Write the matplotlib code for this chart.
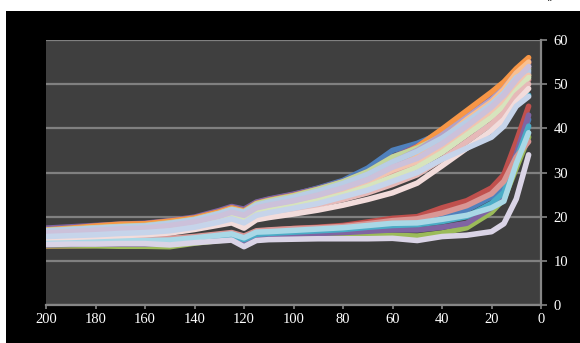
import matplotlib.pyplot as plt
from matplotlib.patches import Rectangle

# distance positions (x axis runs from 200 down to 0)
x = [200, 190, 180, 170, 160, 150, 140, 130, 125, 120, 115, 110,
     100, 90, 80, 70, 60, 50, 40, 30, 20, 15, 10, 5]

# upper bundle
u_blue = [17.2, 17.5, 17.8, 18.1, 18.3, 18.9, 19.7, 21.2, 22.1, 21.5, 23.2, 23.9,
          25.0, 26.5, 28.2, 31.0, 35.0, 36.6, 39.0, 42.5, 46.5, 49.0, 52.0, 54.5]
u_red = [16.8, 17.1, 17.5, 17.8, 18.0, 18.6, 19.4, 20.8, 21.7, 21.0, 22.7, 23.4,
         24.5, 25.9, 27.6, 29.8, 32.8, 35.5, 39.5, 43.0, 46.8, 49.2, 52.5, 54.8]
u_green = [16.5, 16.8, 17.1, 17.4, 17.6, 18.2, 19.0, 20.4, 21.3, 20.6, 22.2, 22.9,
           24.0, 25.3, 27.0, 29.2, 32.0, 34.5, 37.2, 40.5, 44.5, 46.8, 50.0, 52.0]
u_purple = [17.4, 17.7, 18.0, 18.3, 18.5, 19.1, 19.9, 21.4, 22.3, 21.7, 23.3, 24.0,
            25.1, 26.4, 28.0, 30.2, 33.5, 36.0, 39.2, 43.2, 47.2, 49.6, 52.8, 55.2]
u_aqua = [16.6, 16.9, 17.2, 17.5, 17.7, 18.3, 19.1, 20.5, 21.4, 20.7, 22.4, 23.1,
          24.2, 25.6, 27.2, 29.2, 31.8, 34.2, 37.0, 39.5, 40.5, 43.0, 46.0, 47.5]
u_orange = [17.0, 17.4, 17.9, 18.3, 18.4, 19.0, 19.7, 21.1, 22.0, 21.3, 23.0, 23.7,
            24.8, 26.2, 27.8, 30.0, 33.0, 35.8, 39.8, 44.0, 48.2, 50.5, 53.5, 56.0]
u_blue2 = [16.4, 16.7, 17.0, 17.3, 17.6, 18.1, 18.9, 20.3, 21.2, 20.5, 22.1, 22.8,
           23.8, 25.1, 26.8, 28.8, 31.5, 34.0, 36.8, 40.5, 44.5, 47.0, 50.5, 52.5]
u_rose = [16.0, 16.3, 16.6, 16.9, 17.1, 17.6, 18.4, 19.7, 20.6, 19.8, 21.4, 22.0,
          23.0, 24.2, 25.7, 27.5, 30.0, 32.0, 35.0, 38.8, 43.0, 45.5, 49.0, 51.0]
u_green2 = [16.9, 17.2, 17.5, 17.8, 18.0, 18.6, 19.4, 20.8, 21.7, 21.1, 22.9, 23.6,
            24.7, 26.2, 27.9, 30.2, 33.5, 35.5, 38.2, 41.8, 45.8, 48.2, 51.5, 53.5]
u_lilac = [16.7, 17.0, 17.3, 17.6, 17.8, 18.4, 19.2, 20.6, 21.5, 20.9, 22.5, 23.2,
           24.3, 25.7, 27.3, 29.5, 32.3, 35.0, 38.5, 42.5, 46.5, 49.0, 52.5, 54.0]
u_peach = [16.1, 16.4, 16.8, 17.1, 17.3, 17.9, 18.6, 20.0, 20.9, 20.1, 21.8, 22.5,
           23.5, 24.8, 26.4, 28.3, 30.8, 33.5, 37.5, 42.0, 46.0, 48.8, 52.5, 55.0]
u_sky = [16.8, 17.1, 17.4, 17.7, 17.9, 18.5, 19.3, 20.7, 21.6, 21.0, 22.6, 23.3,
         24.4, 25.8, 27.5, 29.6, 32.4, 34.8, 37.8, 41.5, 45.5, 48.0, 51.5, 53.0]
u_salmon = [16.2, 16.5, 16.8, 17.1, 17.3, 17.8, 18.6, 19.9, 20.8, 20.0, 21.7, 22.3,
            23.3, 24.6, 26.1, 27.9, 30.5, 32.5, 35.8, 39.8, 44.0, 46.5, 50.0, 52.0]
u_mint = [15.7, 15.9, 16.2, 16.5, 16.7, 17.2, 18.0, 19.2, 20.0, 19.2, 20.8, 21.4,
          22.4, 23.6, 25.0, 26.8, 29.0, 31.2, 34.5, 38.5, 42.5, 45.0, 48.5, 51.5]
u_pink = [15.4, 15.6, 15.8, 16.1, 16.3, 16.7, 17.5, 18.6, 19.4, 18.4, 20.2, 20.7,
          21.6, 22.6, 23.9, 25.4, 27.3, 29.5, 33.0, 37.0, 41.0, 43.5, 47.5, 50.0]
u_lavender = [16.3, 16.6, 16.9, 17.2, 17.4, 18.0, 18.8, 20.1, 21.0, 20.3, 22.0, 22.6,
              23.6, 24.9, 26.5, 28.4, 31.2, 33.2, 36.5, 40.5, 44.8, 47.5, 51.0, 54.0]
u_pale_blue = [15.5, 15.7, 15.9, 16.2, 16.4, 16.8, 17.6, 18.8, 19.5, 18.6, 20.3, 20.9,
               21.9, 23.0, 24.5, 26.0, 28.0, 30.0, 33.0, 35.5, 38.0, 40.5, 45.0, 47.2]
u_pale_pink = [15.2, 15.3, 15.5, 15.7, 15.9, 16.3, 17.1, 18.1, 18.6, 17.4, 19.3, 19.8,
               20.6, 21.5, 22.6, 23.9, 25.4, 27.6, 31.5, 35.5, 39.5, 42.0, 46.0, 49.0]

# lower bundle
l_red = [13.3, 13.4, 13.5, 13.7, 13.9, 14.3, 14.9, 15.7, 16.1, 15.3, 16.6, 16.9,
         17.3, 17.6, 18.0, 18.8, 19.6, 20.0, 22.0, 23.6, 26.5, 29.5, 37.0, 45.0]
l_blue = [14.2, 14.3, 14.4, 14.5, 14.5, 14.7, 15.1, 15.7, 16.0, 15.1, 16.3, 16.5,
          16.7, 17.0, 17.3, 17.8, 18.3, 18.5, 19.8, 21.5, 24.5, 27.0, 34.0, 42.0]
l_purple = [13.6, 13.7, 13.8, 13.8, 13.8, 13.9, 14.4, 14.9, 15.2, 14.1, 15.6, 15.8,
            16.0, 16.2, 16.4, 16.7, 17.0, 17.0, 17.6, 18.5, 22.0, 25.0, 34.0, 43.0]
l_green = [13.4, 13.4, 13.4, 13.3, 13.3, 13.2, 14.0, 14.6, 14.9, 13.8, 15.2, 15.4,
           15.5, 15.5, 15.6, 15.7, 15.8, 15.6, 16.3, 17.5, 21.0, 24.0, 31.0, 38.0]
l_aqua = [14.0, 14.1, 14.2, 14.3, 14.3, 14.4, 14.8, 15.4, 15.7, 14.8, 16.0, 16.2,
          16.5, 16.8, 17.1, 17.6, 18.0, 18.2, 18.9, 20.0, 23.0, 25.5, 33.0, 40.5]
l_rose = [14.6, 14.7, 14.8, 14.9, 14.9, 15.1, 15.5, 16.1, 16.4, 15.6, 16.8, 17.0,
          17.3, 17.5, 17.8, 18.4, 19.1, 19.5, 20.8, 22.5, 25.2, 28.0, 33.5, 37.0]
l_cyan = [14.3, 14.4, 14.5, 14.6, 14.6, 14.7, 15.2, 15.8, 16.1, 15.2, 16.5, 16.6,
          16.9, 17.2, 17.5, 18.0, 18.5, 18.6, 19.4, 20.3, 22.0, 23.5, 32.0, 39.0]
l_white = [13.7, 13.8, 13.8, 13.9, 13.9, 13.6, 14.1, 14.5, 14.7, 13.2, 14.6, 14.8,
           14.9, 15.0, 15.0, 15.0, 15.1, 14.6, 15.5, 15.8, 16.6, 18.4, 24.0, 34.0]

# drawing order: strong colours first, pale tints on top
series = [
    (u_blue, '#4F81BD'), (u_red, '#C0504D'), (u_green, '#9BBB59'),
    (u_purple, '#8064A2'), (u_aqua, '#4BACC6'), (u_orange, '#F79646'),
    (l_red, '#C0504D'), (l_blue, '#4F81BD'), (l_green, '#9BBB59'),
    (l_purple, '#8064A2'), (l_aqua, '#4BACC6'),
    (u_blue2, '#95B3D7'), (u_rose, '#D99694'), (u_green2, '#C3D69B'),
    (u_lilac, '#B3A2C7'), (u_peach, '#FAC090'), (l_rose, '#D99694'),
    (u_sky, '#B9CDE5'), (u_salmon, '#F2C4B0'), (u_mint, '#D7E4BD'),
    (u_pink, '#E6B9B8'), (u_lavender, '#CCC1DA'), (l_cyan, '#A9D8E6'),
    (u_pale_pink, '#F2DCDB'), (u_pale_blue, '#C6D4EA'), (l_white, '#DAD4E6'),
]

fig = plt.figure(figsize=(5.8, 3.43), dpi=100, facecolor='white')
fig.patches.append(Rectangle((6 / 580, 0), 574 / 580, 332 / 343,
                             transform=fig.transFigure, facecolor='black',
                             edgecolor='none', zorder=-10))
fig.text(550 / 580, 1.0, '\u00a8', color='black', fontsize=8,
         ha='center', va='top')

ax = fig.add_axes([46 / 580, 38 / 343, 495 / 580, 265 / 343])
ax.set_facecolor('#3F3F3F')

for ys, c in series:
    ax.plot(x, ys, color=c, lw=4.0, solid_capstyle='round',
            solid_joinstyle='round')

ax.set_xlim(200, 0)
ax.set_ylim(0, 60)
ax.set_xticks(range(0, 201, 20))
ax.set_yticks(range(0, 61, 10))
ax.yaxis.tick_right()
ax.yaxis.grid(True, color='#808080', lw=1.6)
ax.set_axisbelow(True)

for side in ('top', 'left'):
    ax.spines[side].set_visible(False)
for side in ('bottom', 'right'):
    ax.spines[side].set_color('#868686')
    ax.spines[side].set_linewidth(1.6)

ax.tick_params(axis='x', colors='#868686', length=3, width=1.2, pad=3,
               labelcolor='white')
ax.tick_params(axis='y', colors='#868686', length=4, width=1.2, pad=5,
               labelcolor='white')
for lab in ax.get_xticklabels() + ax.get_yticklabels():
    lab.set_fontfamily('Liberation Serif')
    lab.set_fontsize(10.5)

fig.savefig('out.png', dpi=100, facecolor='white')
